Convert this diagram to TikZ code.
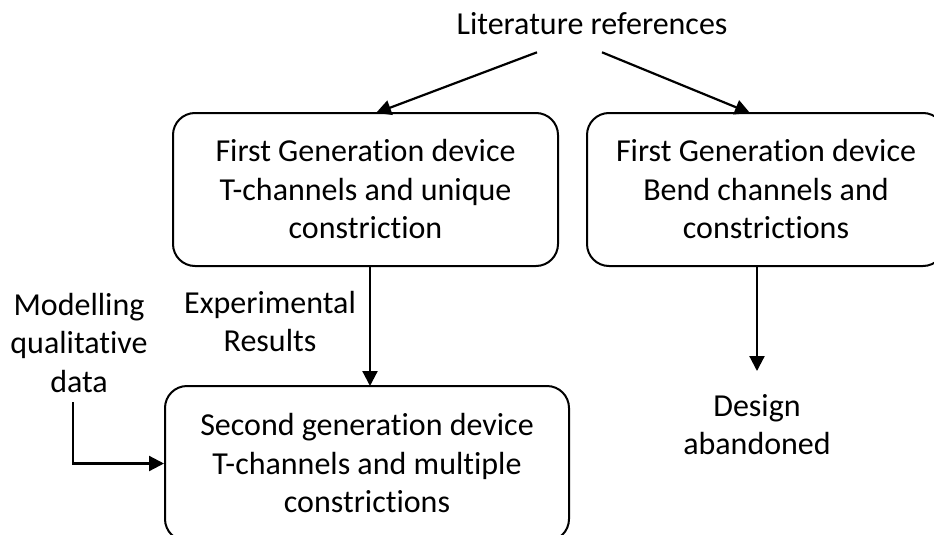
\documentclass[tikz,border=0pt]{standalone}
\usepackage{fontspec}
\setmainfont{Carlito}[Ligatures={NoCommon}]
\usetikzlibrary{arrows.meta}
\begin{document}
\begin{tikzpicture}[x=1pt,y=-1pt,
  txt/.style={font=\fontsize{32}{38.5}\selectfont, align=center, inner sep=0pt},
  box/.style={txt, draw, line width=2pt, rounded corners=22pt},
  arr/.style={line width=2.2pt, -{Triangle[length=15pt,width=15pt]}}]
\useasboundingbox (0,0) rectangle (934,535);
\clip (0,0) rectangle (934,535);
% boxes
\node[box, minimum width=385pt, minimum height=153pt] (b1) at (365.5,189.5)
  {First Generation device\\T-channels and unique\\constriction};
\node[box, minimum width=358pt, minimum height=153pt] (b2) at (766,189.5)
  {First Generation device\\Bend channels and\\constrictions};
\node[box, minimum width=404pt, minimum height=155pt] (b3) at (367,463.5)
  {Second generation device\\T-channels and multiple\\constrictions};
% free texts
\node[txt, anchor=base] (lit) at (592,34.3) {Literature references};
\node[txt] (exp) at (270,321.3) {Experimental\\Results};
\node[txt] (mod) at (79,342.8) {Modelling\\qualitative\\data};
\node[txt] (des) at (757,424.7) {Design\\abandoned};
% connector ends
\coordinate (l1) at (537,52.3);
\coordinate (l2) at (602,52.3);
\coordinate (t1) at (376,113);
\coordinate (t2) at (750,113);
\coordinate (v1) at (370,266);
\coordinate (v1e) at (370,386);
\coordinate (v2) at (757,266);
\coordinate (v2e) at (757,371);
\coordinate (m1) at (73.3,402);
% connectors
\draw[arr] (l1) -- (t1);
\draw[arr] (l2) -- (t2);
\draw[arr] (v1) -- (v1e);
\draw[arr] (v2) -- (v2e);
\draw[arr] (m1) |- (b3.west);
\end{tikzpicture}
\end{document}
